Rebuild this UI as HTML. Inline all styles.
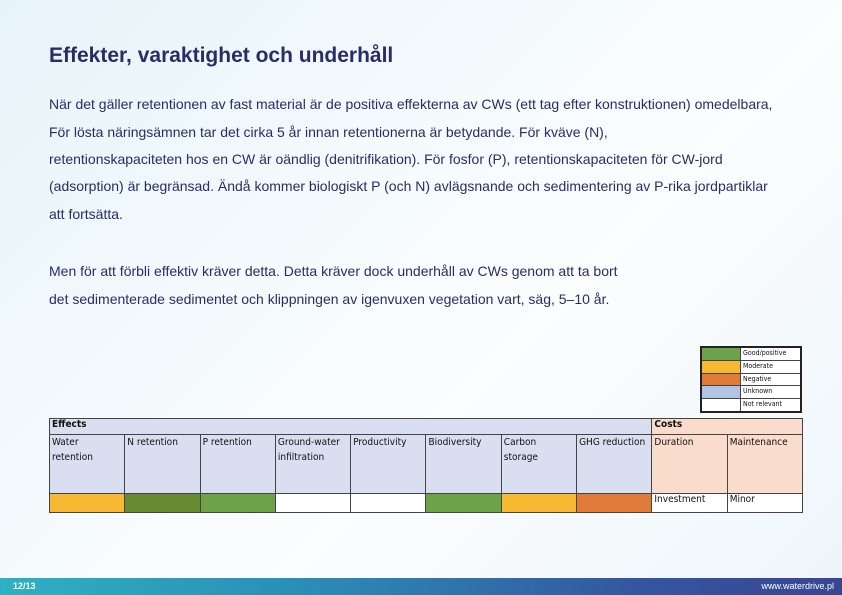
<!DOCTYPE html>
<html><head><meta charset="utf-8"><style>
body{margin:0;width:842px;height:595px;position:relative;overflow:hidden;font-family:"Liberation Sans",sans-serif;
background:linear-gradient(135deg,#e6f3f9 0%,#f4fafd 35%,#fbfdfe 60%,#eef6fb 100%);}
.t{position:absolute;left:49px;top:44px;font-size:21px;font-weight:bold;color:#2a2c66;}
.p{position:absolute;left:49px;font-size:14px;color:#2a2c66;white-space:nowrap;}
table{border-collapse:collapse;position:absolute;font-family:"DejaVu Sans Condensed","Liberation Sans",sans-serif;}
td{border:1px solid #444;padding:0 6px 0 2px;vertical-align:top;font-size:10px;color:#111;}
.lg td{font-size:7px;height:11.8px;padding:0 2px;line-height:11px}
.f{position:absolute;left:0;top:578px;width:842px;height:17px;background:linear-gradient(90deg,#2fb0c3,#2a8fb7 35%,#3457a0 75%,#3a4592);color:#fff;font-size:9px;font-weight:bold}
</style></head><body>
<div class="t">Effekter, varaktighet och underhåll</div>
<div class="p" style="top:96px">När det gäller retentionen av fast material är de positiva effekterna av CWs (ett tag efter konstruktionen) omedelbara,</div>
<div class="p" style="top:124px">För lösta näringsämnen tar det cirka 5 år innan retentionerna är betydande. För kväve (N),</div>
<div class="p" style="top:151px">retentionskapaciteten hos en CW är oändlig (denitrifikation). För fosfor (P), retentionskapaciteten för CW-jord</div>
<div class="p" style="top:178px">(adsorption) är begränsad. Ändå kommer biologiskt P (och N) avlägsnande och sedimentering av P-rika jordpartiklar</div>
<div class="p" style="top:206px">att fortsätta.</div>
<div class="p" style="top:263px">Men för att förbli effektiv kräver detta. Detta kräver dock underhåll av CWs genom att ta bort</div>
<div class="p" style="top:291px">det sedimenterade sedimentet och klippningen av igenvuxen vegetation vart, säg, 5–10 år.</div>

<table class="lg" style="left:700px;top:346px;width:102px;border:2px solid #222">
<tr><td style="background:#6ea24a;width:34px"></td><td style="background:#fff">Good/positive</td></tr>
<tr><td style="background:#f7b934"></td><td style="background:#fff">Moderate</td></tr>
<tr><td style="background:#e07b39"></td><td style="background:#fff">Negative</td></tr>
<tr><td style="background:#b3c3e3"></td><td style="background:#fff">Unknown</td></tr>
<tr><td style="background:#fff"></td><td style="background:#fff">Not relevant</td></tr>
</table>

<table style="left:49px;top:418px;width:753px;table-layout:fixed">
<colgroup><col span="10" style="width:75.3px"></colgroup>
<tr style="height:16px"><td colspan="8" style="background:#d9dff0;font-weight:bold">Effects</td><td colspan="2" style="background:#f9dccb;font-weight:bold">Costs</td></tr>
<tr style="height:59px;line-height:15px">
<td style="background:#d9dff0">Water retention</td><td style="background:#d9dff0">N retention</td><td style="background:#d9dff0">P retention</td><td style="background:#d9dff0">Ground-water infiltration</td><td style="background:#d9dff0">Productivity</td><td style="background:#d9dff0">Biodiversity</td><td style="background:#d9dff0">Carbon storage</td><td style="background:#d9dff0;white-space:nowrap">GHG reduction</td><td style="background:#f9dccb">Duration</td><td style="background:#f9dccb">Maintenance</td></tr>
<tr style="height:19px"><td style="background:#f7b934"></td><td style="background:#668b30"></td><td style="background:#6ea24a"></td><td style="background:#fff"></td><td style="background:#fff"></td><td style="background:#6ea24a"></td><td style="background:#f7b934"></td><td style="background:#e07b39"></td><td style="background:#fff">Investment</td><td style="background:#fff">Minor</td></tr>
</table>

<div class="f"><span style="position:absolute;left:13px;top:3px">12/13</span><span style="position:absolute;right:8px;top:3px;font-weight:normal">www.waterdrive.pl</span></div>
</body></html>
